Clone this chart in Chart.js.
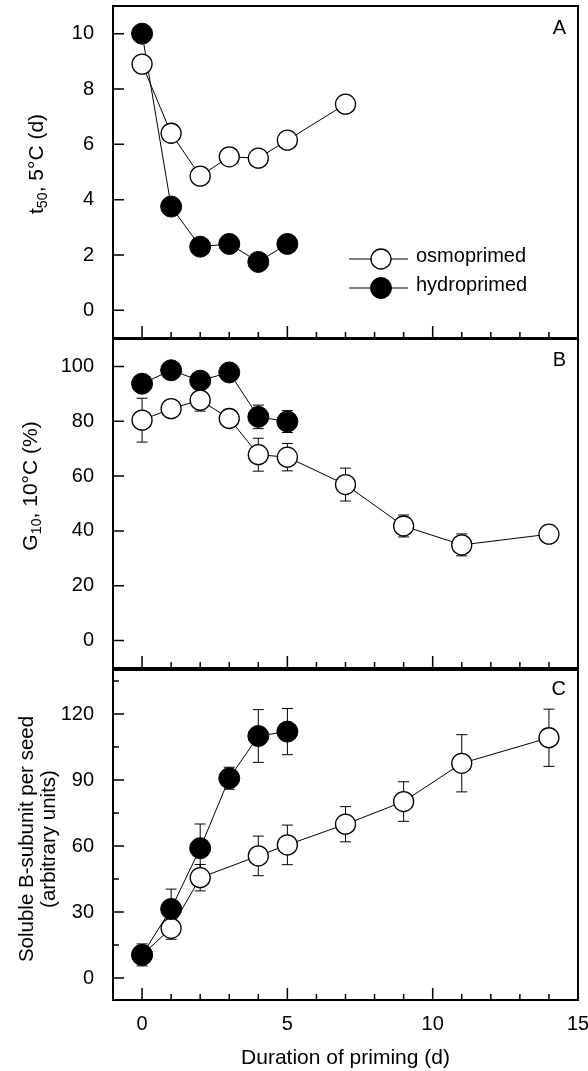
<!DOCTYPE html>
<html lang="en">
<head>
<meta charset="UTF-8">
<title>Duration of priming</title>
<script src="https://cdn.jsdelivr.net/npm/chart.js"></script>
<style>
  body { margin: 0; background: #fff; }
  .wrap { position: relative; width: 588px; height: 1071px; }
  canvas { position: absolute; left: 0; }
</style>
</head>
<body>
<div class="wrap">
  <canvas id="chartA" width="588" height="340" style="top:0px"></canvas>
  <canvas id="chartB" width="588" height="332" style="top:338px"></canvas>
  <canvas id="chartC" width="588" height="403" style="top:668px"></canvas>
</div>
<script>
  // x positions (days of priming)
  const daysHydro = [0, 1, 2, 3, 4, 5];
  const daysOsmoA = [0, 1, 2, 3, 4, 5, 7];
  const daysOsmoB = [0, 1, 2, 3, 4, 5, 7, 9, 11, 14];
  const daysOsmoC = [0, 1, 2, 4, 5, 7, 9, 11, 14];

  // panel A: t50 at 5°C (d)
  const t50Osmo = [8.9, 6.4, 4.85, 5.55, 5.5, 6.15, 7.45];
  const t50Hydro = [10.0, 3.75, 2.3, 2.4, 1.75, 2.4];

  // panel B: G10 at 10°C (%)
  const g10Osmo = [80.4, 84.6, 87.7, 81.0, 67.8, 66.9, 56.9, 41.8, 34.9, 38.8];
  const g10OsmoErr = [8, 3, 4, 3, 6, 5, 6, 4, 4, 2];
  const g10Hydro = [93.7, 98.6, 94.8, 97.8, 81.6, 79.9];
  const g10HydroErr = [2, 2, 2, 2, 4.3, 4];

  // panel C: soluble B-subunit per seed
  const subOsmo = [10.5, 22.6, 45.6, 55.5, 60.5, 69.9, 80.2, 97.6, 109.2];
  const subOsmoErr = [4, 5, 6, 9, 9, 8, 9, 13, 13];
  const subHydro = [10.5, 31.4, 59, 90.8, 110, 112];
  const subHydroErr = [5, 9, 11, 5, 12, 10.5];

  // tick labels
  const xTickLabels = [0, 5, 10, 15];
  const xMajorTicks = [0, 5, 10];
  const xMinorTicks = [1, 2, 3, 4, 6, 7, 8, 9, 11, 12, 13, 14];
  const yTicksA = [0, 2, 4, 6, 8, 10];
  const yTicksB = [0, 20, 40, 60, 80, 100];
  const yTicksC = [0, 30, 60, 90, 120];
  const yMinorC = [15, 45, 75, 105, 135];

  const FONT = '"Liberation Sans", Arial, Helvetica, sans-serif';

  function pts(xs, ys) {
    return xs.map((x, i) => ({ x: x, y: ys[i] }));
  }

  function osmo(xs, ys, errs) {
    return {
      label: 'osmoprimed', data: pts(xs, ys), errors: errs || null,
      borderColor: '#000', borderWidth: 1,
      pointRadius: 10, pointBorderWidth: 1.3,
      pointBackgroundColor: '#fff', pointBorderColor: '#000'
    };
  }
  function hydro(xs, ys, errs) {
    return {
      label: 'hydroprimed', data: pts(xs, ys), errors: errs || null,
      borderColor: '#000', borderWidth: 1,
      pointRadius: 10.5, pointBorderWidth: 1,
      pointBackgroundColor: '#000', pointBorderColor: '#000'
    };
  }

  // rotated text with subscripts, parts = [[text, isSub], ...]
  function drawVertical(ctx, parts, cx, cy, size) {
    ctx.save();
    ctx.translate(cx, cy);
    ctx.rotate(-Math.PI / 2);
    ctx.fillStyle = '#000';
    ctx.textBaseline = 'middle';
    ctx.textAlign = 'left';
    const widths = parts.map(p => {
      ctx.font = (p[1] ? size * 0.68 : size) + 'px ' + FONT;
      return ctx.measureText(p[0]).width;
    });
    let x = -widths.reduce((a, b) => a + b, 0) / 2;
    parts.forEach((p, i) => {
      ctx.font = (p[1] ? size * 0.68 : size) + 'px ' + FONT;
      ctx.fillText(p[0], x, p[1] ? size * 0.3 : 0);
      x += widths[i];
    });
    ctx.restore();
  }

  function panelPlugin(o) {
    return {
      id: 'panel' + o.letter,
      beforeDatasetsDraw(chart) {
        const ctx = chart.ctx, xs = chart.scales.x, ys = chart.scales.y;
        ctx.save();
        ctx.strokeStyle = '#000';
        ctx.lineWidth = 1;
        chart.data.datasets.forEach(ds => {
          if (!ds.errors) return;
          ds.data.forEach((p, i) => {
            const e = ds.errors[i];
            const px = xs.getPixelForValue(p.x);
            const y1 = ys.getPixelForValue(p.y + e), y2 = ys.getPixelForValue(p.y - e);
            ctx.beginPath();
            ctx.moveTo(px, y1); ctx.lineTo(px, y2);
            ctx.moveTo(px - 5.5, y1); ctx.lineTo(px + 5.5, y1);
            ctx.moveTo(px - 5.5, y2); ctx.lineTo(px + 5.5, y2);
            ctx.stroke();
          });
        });
        ctx.restore();
      },
      afterDraw(chart) {
        const ctx = chart.ctx, a = chart.chartArea;
        const xs = chart.scales.x, ys = chart.scales.y;
        ctx.save();
        ctx.strokeStyle = '#000';
        // ticks
        ctx.lineWidth = 1.5;
        ctx.beginPath();
        o.yTicks.forEach(v => {
          const py = ys.getPixelForValue(v);
          ctx.moveTo(a.left, py); ctx.lineTo(a.left + 11, py);
        });
        (o.yMinor || []).forEach(v => {
          const py = ys.getPixelForValue(v);
          ctx.moveTo(a.left, py); ctx.lineTo(a.left + 6, py);
        });
        xMajorTicks.forEach(v => {
          const px = xs.getPixelForValue(v);
          ctx.moveTo(px, a.bottom); ctx.lineTo(px, a.bottom - 12);
        });
        xMinorTicks.forEach(v => {
          const px = xs.getPixelForValue(v);
          ctx.moveTo(px, a.bottom); ctx.lineTo(px, a.bottom - 6);
        });
        ctx.stroke();
        // frame
        ctx.lineWidth = 2;
        ctx.strokeRect(a.left, a.top, a.right - a.left, a.bottom - a.top);
        // panel letter
        ctx.fillStyle = '#000';
        ctx.font = '20px ' + FONT;
        ctx.textAlign = 'right';
        ctx.textBaseline = 'middle';
        ctx.fillText(o.letter, 566, o.letterY);
        // y title
        o.titles.forEach(t => drawVertical(ctx, t.parts, t.x, t.y, t.size || 21));
        // x title
        if (o.xTitle) {
          ctx.font = '21px ' + FONT;
          ctx.textAlign = 'center';
          ctx.textBaseline = 'middle';
          ctx.fillText(o.xTitle, (a.left + a.right) / 2, o.xTitleY);
        }
        // legend
        if (o.legend) {
          chart.data.datasets.forEach((ds, i) => {
            const ly = o.legend.y[i];
            ctx.lineWidth = 1;
            ctx.beginPath();
            ctx.moveTo(o.legend.x0, ly); ctx.lineTo(o.legend.x1, ly);
            ctx.stroke();
            ctx.beginPath();
            ctx.arc(o.legend.cx, ly, ds.pointRadius, 0, Math.PI * 2);
            ctx.fillStyle = ds.pointBackgroundColor;
            ctx.fill();
            ctx.lineWidth = ds.pointBorderWidth;
            ctx.stroke();
            ctx.fillStyle = '#000';
            ctx.font = '20px ' + FONT;
            ctx.textAlign = 'left';
            ctx.textBaseline = 'middle';
            ctx.fillText(ds.label, o.legend.tx, ly - 3);
          });
        }
        ctx.restore();
      }
    };
  }

  function makeChart(id, o) {
    return new Chart(document.getElementById(id), {
      type: 'line',
      data: { datasets: o.datasets },
      options: {
        responsive: false,
        animation: false,
        devicePixelRatio: 1,
        layout: { autoPadding: false, padding: { left: 0, right: 10, top: o.padTop, bottom: o.padBottom } },
        plugins: { legend: { display: false }, tooltip: { enabled: false } },
        scales: {
          x: {
            type: 'linear', min: -1, max: 15, display: o.showX,
            afterBuildTicks: s => { s.ticks = xTickLabels.map(v => ({ value: v })); },
            afterFit: s => { s.height = o.showX ? 71 : 0; s.paddingLeft = 0; s.paddingRight = 0; },
            grid: { display: false, drawTicks: false },
            border: { display: false },
            ticks: { font: { family: FONT, size: 20 }, color: '#000', padding: 12, maxRotation: 0 }
          },
          y: {
            type: 'linear', min: o.yMin, max: o.yMax,
            afterBuildTicks: s => { s.ticks = o.yTicks.map(v => ({ value: v })); },
            afterFit: s => { s.width = 113; s.paddingTop = 0; s.paddingBottom = 0; },
            grid: { display: false, drawTicks: false },
            border: { display: false },
            ticks: { font: { family: FONT, size: 20 }, color: '#000', padding: 19 }
          }
        }
      },
      plugins: [panelPlugin(o)]
    });
  }

  makeChart('chartA', {
    datasets: [osmo(daysOsmoA, t50Osmo), hydro(daysHydro, t50Hydro)],
    yMin: -1, yMax: 11, yTicks: yTicksA, showX: false, padTop: 6, padBottom: 2,
    letter: 'A', letterY: 28,
    titles: [{ parts: [['t', false], ['50', true], [', 5°C (d)', false]], x: 37, y: 164 }],
    legend: { x0: 349, x1: 408, cx: 381, tx: 416, y: [259, 288] }
  });

  makeChart('chartB', {
    datasets: [osmo(daysOsmoB, g10Osmo, g10OsmoErr), hydro(daysHydro, g10Hydro, g10HydroErr)],
    yMin: -10, yMax: 110, yTicks: yTicksB, showX: false, padTop: 1, padBottom: 2,
    letter: 'B', letterY: 22,
    titles: [{ parts: [['G', false], ['10', true], [', 10°C (%)', false]], x: 31, y: 148 }]
  });

  makeChart('chartC', {
    datasets: [hydro(daysHydro, subHydro, subHydroErr), osmo(daysOsmoC, subOsmo, subOsmoErr)],
    yMin: -10, yMax: 140, yTicks: yTicksC, yMinor: yMinorC, showX: true, padTop: 2, padBottom: 0,
    letter: 'C', letterY: 21,
    titles: [
      { parts: [['Soluble B-subunit per seed', false]], x: 27, y: 171, size: 20.5 },
      { parts: [['(arbitrary units)', false]], x: 49, y: 171, size: 20.5 }
    ],
    xTitle: 'Duration of priming (d)', xTitleY: 390
  });
</script>
</body>
</html>
